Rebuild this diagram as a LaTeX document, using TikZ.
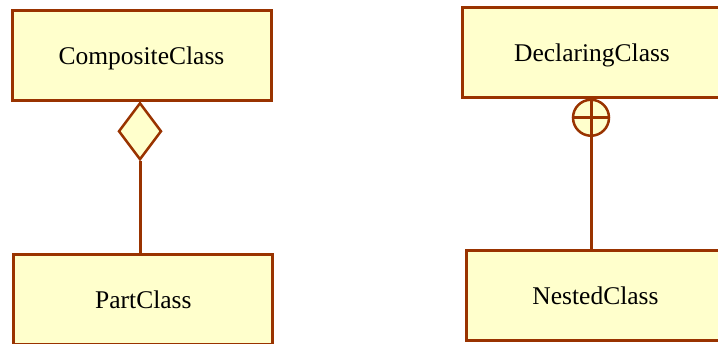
\documentclass[tikz,border=0pt]{standalone}
\usepackage{fontspec}
\setmainfont{Liberation Serif}
\usetikzlibrary{shapes.geometric}
\definecolor{umlline}{RGB}{153,51,0}
\definecolor{umlfill}{RGB}{255,255,204}
\begin{document}
\begin{tikzpicture}[x=1pt,y=-1pt,
  classbox/.style={draw=umlline,fill=umlfill,line width=3pt,rectangle,
    minimum width=259pt,minimum height=90pt,inner sep=0pt,
    text height=18pt,text depth=0pt,
    font=\fontsize{25.5}{30}\selectfont},
  conn/.style={draw=umlline,line width=3pt},
  aggr/.style={draw=umlline,fill=umlfill,line width=2.5pt,diamond,
    minimum width=43pt,minimum height=57pt,inner sep=0pt},
  nest/.style={draw=umlline,fill=umlfill,line width=2.5pt,circle,
    minimum size=36pt,inner sep=0pt}]
\useasboundingbox (0,0) rectangle (718,344);
\clip (0,0) rectangle (718,344);
\fill[white] (0,0) rectangle (718,344);
\node[classbox] (comp) at (141.5,56) {CompositeClass};
\node[classbox] (part) at (143.4,299.5) {PartClass};
\node[classbox] (decl) at (592,52.5) {DeclaringClass};
\node[classbox] (nested) at (595.5,296) {NestedClass};
\node[aggr,anchor=north] (dia) at (140,101.5) {};
\node[nest,anchor=north] (circ) at (591,98.5) {};
\draw[conn] (dia.south) -- (dia.south |- part.north);
\draw[conn] (circ.north) -- (circ.north |- nested.north);
\draw[conn,line width=2.5pt] (circ.west) -- (circ.east);
\end{tikzpicture}
\end{document}
